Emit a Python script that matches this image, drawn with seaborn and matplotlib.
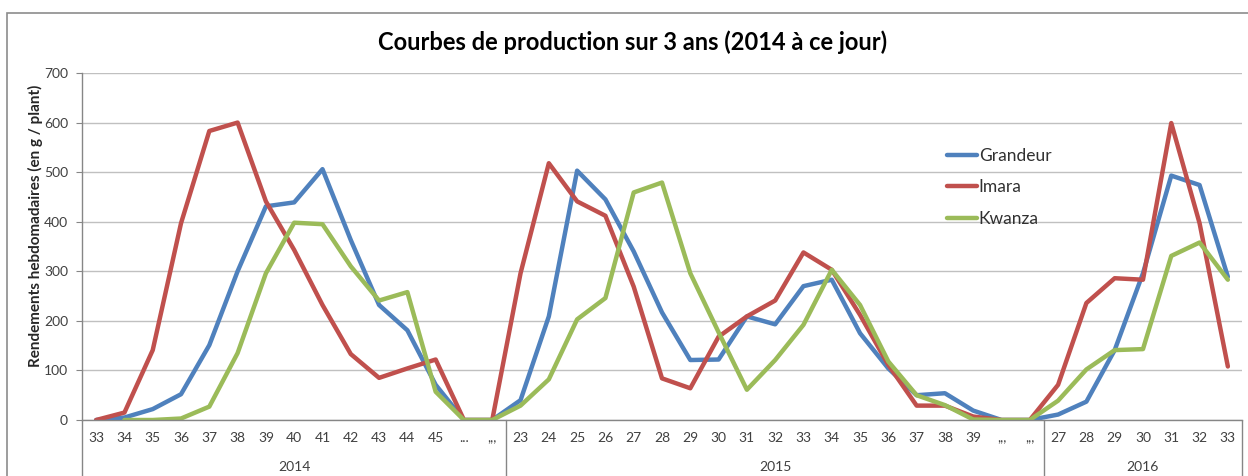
import numpy as np
import pandas as pd
import matplotlib
matplotlib.use("Agg")
import matplotlib.pyplot as plt
import seaborn as sns
from matplotlib.patches import Rectangle

# Weeks (x categories), grouped by year
weeks_2014 = ["33", "34", "35", "36", "37", "38", "39", "40", "41", "42", "43", "44", "45", "...", ",,,"]
weeks_2015 = ["23", "24", "25", "26", "27", "28", "29", "30", "31", "32", "33", "34", "35", "36", "37", "38", "39", ",,,", ",,,"]
weeks_2016 = ["27", "28", "29", "30", "31", "32", "33"]
years = ["2014", "2015", "2016"]

# Weekly yields (g / plant)
grandeur = [0, 5, 22, 52, 151, 300, 431, 439, 506, 363, 232, 181, 71, 0, 0,
            40, 209, 503, 445, 340, 217, 121, 122, 209, 193, 270, 283, 175, 104, 50, 54, 19, 0, 0,
            11, 37, 141, 296, 493, 474, 289]
imara = [0, 15, 141, 397, 583, 600, 441, 343, 232, 133, 85, 104, 122, 0, 0,
         296, 518, 441, 412, 269, 84, 64, 168, 209, 241, 338, 303, 212, 111, 29, 29, 7, 0, 0,
         71, 236, 286, 283, 599, 397, 108]
kwanza = [np.nan, 0, 0, 3, 27, 135, 296, 398, 395, 310, 241, 258, 57, 0, 0,
          29, 82, 203, 246, 459, 479, 296, 177, 61, 121, 192, 303, 232, 118, 50, 30, 1, 0, 0,
          39, 102, 141, 143, 331, 358, 283]

labels = weeks_2014 + weeks_2015 + weeks_2016
groups = [len(weeks_2014), len(weeks_2015), len(weeks_2016)]
n = len(labels)
pos = np.arange(n)

df = pd.concat([
    pd.DataFrame({"pos": pos, "val": grandeur, "serie": "Grandeur"}),
    pd.DataFrame({"pos": pos, "val": imara, "serie": "Imara"}),
    pd.DataFrame({"pos": pos, "val": kwanza, "serie": "Kwanza"}),
]).dropna()

sns.set_style("white")
plt.rcParams["font.family"] = ["Lato", "DejaVu Sans"]

fig = plt.figure(figsize=(12.48, 4.76), dpi=100)
ax = fig.add_axes([82 / 1248, 56 / 476, 1160 / 1248, 347 / 476])

palette = {"Grandeur": "#4F81BD", "Imara": "#C0504D", "Kwanza": "#9BBB59"}
sns.lineplot(data=df, x="pos", y="val", hue="serie", palette=palette,
             estimator=None, sort=False, linewidth=3.2, ax=ax)

gray = "#868686"
txt = "#404040"
ax.set_xlim(-0.5, n - 0.5)
ax.set_ylim(0, 700)
ax.set_yticks(range(0, 701, 100))
ax.yaxis.grid(True, color="#c0c0c0", linewidth=1)
ax.set_axisbelow(True)
for s in ["top", "right"]:
    ax.spines[s].set_visible(False)
for s in ["left", "bottom"]:
    ax.spines[s].set_color(gray)
    ax.spines[s].set_linewidth(1)

ax.set_xticks(pos)
ax.set_xticklabels(labels)
ax.set_xticks(np.arange(-0.5, n, 1), minor=True)
ax.tick_params(axis="x", which="major", length=0, pad=9, labelsize=10, labelcolor=txt)
ax.tick_params(axis="x", which="minor", length=20, color=gray, width=1)
ax.tick_params(axis="y", length=4, color=gray, pad=6, labelsize=10, labelcolor=txt, left=True)
ax.set_xlabel("")
ax.set_ylabel("")

# year separators and labels
trans = ax.get_xaxis_transform()
start = -0.5
for yr, g in zip(years, groups):
    ax.plot([start, start], [0, -0.2], color=gray, lw=1, transform=trans, clip_on=False)
    ax.text(start + g / 2, -0.135, yr, transform=trans, ha="center", va="center",
            fontsize=10, color=txt)
    start += g
ax.plot([start, start], [0, -0.2], color=gray, lw=1, transform=trans, clip_on=False)

leg = ax.legend(loc="upper left", bbox_to_anchor=(0.732, 0.83), frameon=False,
                fontsize=12.5, handlelength=1.75, handletextpad=0.1, labelspacing=0.9)
for t in leg.get_texts():
    t.set_color("#303030")
for h in leg.get_lines():
    h.set_linewidth(3.2)

fig.text(633 / 1248, 1 - 42 / 476, "Courbes de production sur 3 ans (2014 à ce jour)",
         ha="center", va="center", fontsize=17, fontweight="bold", color="black")
fig.text(35 / 1248, 1 - 226 / 476, "Rendements hebdomadaires (en g / plant)",
         ha="center", va="center", rotation=90, fontsize=11, fontweight="bold")

fig.patches.append(Rectangle((7 / 1248, -0.1), 1.2, 1 - 13 / 476 + 0.1, transform=fig.transFigure,
                             fill=False, edgecolor="#8c8c8c", lw=1.2))

fig.savefig("out.png", dpi=100)
